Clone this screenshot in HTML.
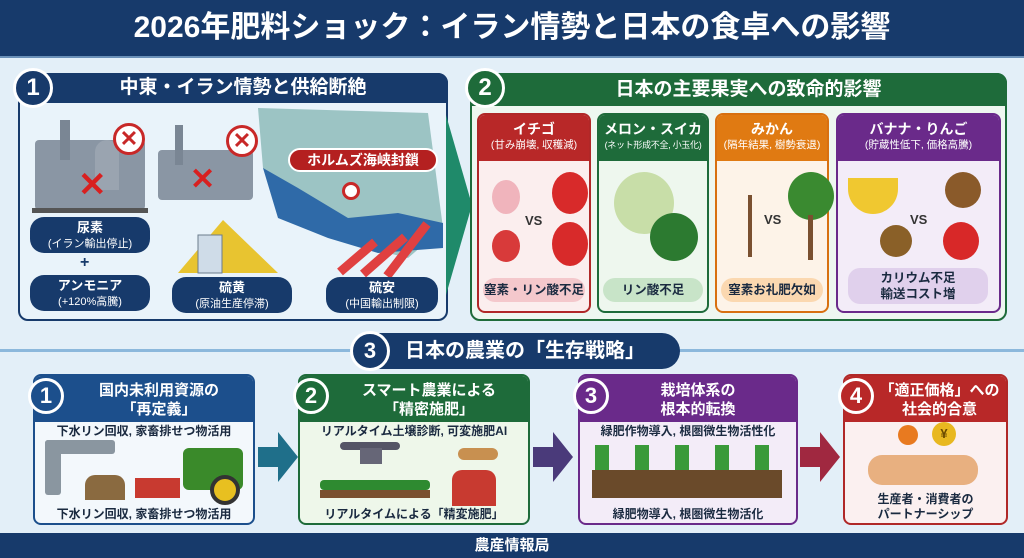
<!DOCTYPE html>
<html><head><meta charset="utf-8"><style>
*{margin:0;padding:0;box-sizing:border-box}
body{width:1024px;height:558px;overflow:hidden;background:#e3eff8;font-family:"Liberation Sans","Noto Sans CJK JP",sans-serif;position:relative;color:#1a2a40}
.a{position:absolute}
.title{left:0;top:0;width:1024px;height:58px;background:#173a6b;color:#fff;font-size:30px;font-weight:bold;text-align:center;line-height:56px;border-bottom:2px solid #6a90b8}
.box{border:2px solid;border-radius:10px;background:#e9f3fa}
.hd{color:#fff;font-weight:bold;text-align:center}
.num{border-radius:50%;color:#fff;font-weight:bold;text-align:center;border:3px solid #fff}
.pill{background:#173a6b;color:#fff;border-radius:14px;text-align:center;font-weight:bold;font-size:13px;line-height:15px;padding-top:3px}
.pill small{font-size:11px;font-weight:normal}
.card{border:2px solid;border-radius:8px;overflow:hidden}
.ch{color:#fff;text-align:center;font-weight:bold;font-size:14px;line-height:18px;padding-top:5px;height:46px;white-space:nowrap}
.ch small{display:block;font-size:10.5px;font-weight:normal;line-height:15px}
.tag{border-radius:12px;text-align:center;font-weight:bold;font-size:12.5px}
.vs{font-weight:bold;font-size:13px;color:#333}
.c{border-radius:50%}
.bc{border:2px solid;border-radius:8px;background:#f3f8fc;overflow:hidden}
.bh{color:#fff;font-weight:bold;font-size:15px;line-height:19px;text-align:center;height:46px;padding-top:5px}
.bt{text-align:center;font-weight:bold;font-size:12px;color:#1a2a40}
</style></head><body>
<div class="a title">2026年肥料ショック：イラン情勢と日本の食卓への影響</div>

<div class="a box" style="left:18px;top:73px;width:430px;height:248px;border-color:#173a6b"></div>
<div class="a hd" style="left:18px;top:73px;width:430px;height:30px;background:#173a6b;border-radius:10px 10px 0 0;font-size:19px;line-height:30px;padding-left:20px">中東・イラン情勢と供給断絶</div>
<div class="a num" style="left:13px;top:68px;width:40px;height:40px;background:#173a6b;font-size:24px;line-height:34px">1</div>
<div class="a" style="left:35px;top:140px;width:110px;height:70px;background:#8a96a4;border-radius:4px"></div>
<div class="a" style="left:60px;top:120px;width:10px;height:40px;background:#7a8694"></div>
<div class="a" style="left:95px;top:140px;width:24px;height:50px;background:#9aa4b0;border-radius:12px 12px 0 0"></div>
<div class="a" style="left:32px;top:208px;width:116px;height:5px;background:#555"></div>
<div class="a c" style="left:113px;top:123px;width:32px;height:32px;border:3px solid #c82828;background:#fff;color:#c82828;font-size:22px;font-weight:bold;text-align:center;line-height:26px">✕</div>
<div class="a" style="left:78px;top:168px;color:#d82020;font-size:34px;font-weight:bold;line-height:34px">✕</div>
<div class="a" style="left:158px;top:150px;width:95px;height:50px;background:#8a96a4;border-radius:4px"></div>
<div class="a" style="left:175px;top:125px;width:8px;height:40px;background:#7a8694"></div>
<div class="a" style="left:226px;top:125px;width:32px;height:32px;border:3px solid #c82828;background:#fff;color:#c82828;font-size:22px;font-weight:bold;text-align:center;line-height:26px;border-radius:50%">✕</div>
<div class="a" style="left:190px;top:165px;color:#d82020;font-size:30px;font-weight:bold;line-height:30px">✕</div>
<svg class="a" style="left:258px;top:108px" width="190" height="170"><path d="M0 0 L170 5 L185 120 L150 150 L90 135 L60 110 L20 90 L5 60 Z" fill="#9cc4c4"/><path d="M5 60 L40 80 L90 110 L140 105 L185 115 L185 140 L120 145 L70 130 L20 110 Z" fill="#2f6aa8"/></svg>
<div class="a" style="left:288px;top:148px;width:150px;height:24px;background:#b42020;border:2px solid #fff;border-radius:12px;color:#fff;font-weight:bold;font-size:14px;text-align:center;line-height:20px">ホルムズ海峡封鎖</div>
<div class="a c" style="left:342px;top:182px;width:18px;height:18px;border:3px solid #c82828;background:#fff"></div>
<svg class="a" style="left:335px;top:212px" width="100" height="65"><g stroke="#e04040" stroke-width="9" fill="none"><path d="M5 60 L40 30"/><path d="M28 62 L70 25"/><path d="M52 64 L92 12"/></g></svg>
<svg class="a" style="left:178px;top:215px" width="100" height="60"><path d="M0 58 L45 5 L100 58Z" fill="#e8c430"/><rect x="20" y="20" width="24" height="38" fill="#cfdce8" stroke="#6c7c8c"/></svg>
<div class="a pill" style="left:30px;top:217px;width:120px;height:36px">尿素<br><small>(イラン輸出停止)</small></div>
<div class="a" style="left:80px;top:254px;font-size:16px;font-weight:bold;color:#173a6b">+</div>
<div class="a pill" style="left:30px;top:275px;width:120px;height:36px">アンモニア<br><small>(+120%高騰)</small></div>
<div class="a pill" style="left:172px;top:277px;width:120px;height:36px">硫黄<br><small>(原油生産停滞)</small></div>
<div class="a pill" style="left:326px;top:277px;width:112px;height:36px">硫安<br><small>(中国輸出制限)</small></div>
<svg class="a" style="left:446px;top:115px" width="28" height="180"><path d="M0 0 L26 90 L0 180Z" fill="#1f8a6a"/></svg>

<div class="a box" style="left:470px;top:73px;width:537px;height:248px;border-color:#1e6b3a;background:#eef7f0"></div>
<div class="a hd" style="left:470px;top:73px;width:537px;height:33px;background:#1e6b3a;border-radius:10px 10px 0 0;font-size:19px;line-height:33px;padding-left:20px">日本の主要果実への致命的影響</div>
<div class="a num" style="left:465px;top:68px;width:40px;height:40px;background:#1e6b3a;font-size:24px;line-height:34px">2</div>

<div class="a card" style="left:477px;top:113px;width:114px;height:200px;border-color:#b02828;background:#fbeeee"><div class="ch" style="background:#b82828">イチゴ<small>(甘み崩壊, 収穫減)</small></div></div>
<div class="a c" style="left:492px;top:180px;width:28px;height:34px;background:#f0b4bc"></div>
<div class="a c" style="left:552px;top:172px;width:36px;height:42px;background:#d82a2a"></div>
<div class="a c" style="left:492px;top:230px;width:28px;height:32px;background:#d83a3a"></div>
<div class="a c" style="left:552px;top:222px;width:36px;height:44px;background:#d82a2a"></div>
<div class="a vs" style="left:525px;top:213px">VS</div>
<div class="a tag" style="left:483px;top:278px;width:102px;height:24px;background:#f4c8cc;line-height:24px">窒素・リン酸不足</div>

<div class="a card" style="left:597px;top:113px;width:112px;height:200px;border-color:#1e6b3a;background:#eef7ee"><div class="ch" style="background:#1e6b3a">メロン・スイカ<small style="font-size:9px;letter-spacing:-0.3px">(ネット形成不全, 小玉化)</small></div></div>
<div class="a c" style="left:614px;top:172px;width:60px;height:62px;background:#c8dea8"></div>
<div class="a c" style="left:650px;top:213px;width:48px;height:48px;background:#2c7a30"></div>
<div class="a tag" style="left:603px;top:278px;width:100px;height:24px;background:#c8e4c8;line-height:24px">リン酸不足</div>

<div class="a card" style="left:715px;top:113px;width:114px;height:200px;border-color:#d87010;background:#fdf3e8"><div class="ch" style="background:#e07a12">みかん<small>(隔年結果, 樹勢衰退)</small></div></div>
<div class="a" style="left:748px;top:195px;width:4px;height:62px;background:#7a5030"></div>
<div class="a c" style="left:788px;top:172px;width:46px;height:48px;background:#3a8a30"></div>
<div class="a" style="left:808px;top:215px;width:5px;height:45px;background:#7a5030"></div>
<div class="a vs" style="left:764px;top:212px">VS</div>
<div class="a tag" style="left:721px;top:278px;width:102px;height:24px;background:#fbd8b0;line-height:24px">窒素お礼肥欠如</div>

<div class="a card" style="left:836px;top:113px;width:165px;height:200px;border-color:#6a2a8a;background:#f3ecf8"><div class="ch" style="background:#6a2a8a">バナナ・りんご<small>(貯蔵性低下, 価格高騰)</small></div></div>
<div class="a" style="left:848px;top:178px;width:50px;height:36px;border-radius:0 0 30px 30px;background:#f0c830"></div>
<div class="a c" style="left:945px;top:172px;width:36px;height:36px;background:#8a5a2a"></div>
<div class="a c" style="left:880px;top:225px;width:32px;height:32px;background:#8a6028"></div>
<div class="a c" style="left:943px;top:222px;width:36px;height:38px;background:#d82828"></div>
<div class="a vs" style="left:910px;top:212px">VS</div>
<div class="a tag" style="left:848px;top:268px;width:140px;height:36px;background:#e0d0ec;line-height:16px;padding-top:2px">カリウム不足<br>輸送コスト増</div>

<div class="a" style="left:0;top:349px;width:1024px;height:3px;background:#8cb8dc"></div>
<div class="a" style="left:355px;top:333px;width:325px;height:36px;background:#173a6b;border-radius:18px;color:#fff;font-weight:bold;font-size:20px;line-height:36px;padding-left:50px">日本の農業の「生存戦略」</div>
<div class="a num" style="left:350px;top:331px;width:40px;height:40px;background:#173a6b;font-size:22px;line-height:34px">3</div>

<div class="a bc" style="left:33px;top:374px;width:222px;height:151px;border-color:#1c4f8c"><div class="bh" style="background:#1c4f8c;padding-left:30px">国内未利用資源の<br>「再定義」</div></div>
<div class="a num" style="left:28px;top:378px;width:36px;height:36px;background:#1c4f8c;font-size:22px;line-height:30px">1</div>
<div class="a bt" style="left:33px;top:422px;width:222px">下水リン回収, 家畜排せつ物活用</div>
<div class="a" style="left:45px;top:440px;width:16px;height:55px;background:#8a96a0;border-radius:3px"></div>
<div class="a" style="left:45px;top:440px;width:70px;height:14px;background:#8a96a0;border-radius:3px"></div>
<div class="a" style="left:85px;top:475px;width:40px;height:25px;background:#8a6a40;border-radius:10px 10px 0 0"></div>
<div class="a" style="left:135px;top:478px;width:45px;height:20px;background:#c83a30"></div>
<div class="a" style="left:183px;top:448px;width:60px;height:42px;background:#3a8a2a;border-radius:6px"></div>
<div class="a c" style="left:210px;top:475px;width:30px;height:30px;background:#e8c020;border:4px solid #333"></div>
<div class="a bt" style="left:33px;top:505px;width:222px">下水リン回収, 家畜排せつ物活用</div>
<svg class="a" style="left:258px;top:432px" width="40" height="50"><path d="M0 15 H20 V0 L40 25 L20 50 V35 H0Z" fill="#1f6f8a"/></svg>

<div class="a bc" style="left:298px;top:374px;width:232px;height:151px;border-color:#1e6b3a;background:#eef7ea"><div class="bh" style="background:#1e6b3a;padding-left:30px">スマート農業による<br>「精密施肥」</div></div>
<div class="a num" style="left:293px;top:378px;width:36px;height:36px;background:#1e6b3a;font-size:22px;line-height:30px">2</div>
<div class="a bt" style="left:298px;top:422px;width:232px">リアルタイム土壌診断, 可変施肥AI</div>
<div class="a" style="left:340px;top:442px;width:60px;height:8px;background:#556;border-radius:4px"></div>
<div class="a" style="left:360px;top:448px;width:22px;height:16px;background:#667"></div>
<div class="a" style="left:320px;top:480px;width:110px;height:10px;background:#2e8a30;border-radius:4px"></div>
<div class="a" style="left:320px;top:490px;width:110px;height:8px;background:#7a5030"></div>
<div class="a" style="left:458px;top:448px;width:40px;height:12px;background:#c89050;border-radius:10px"></div>
<div class="a" style="left:452px;top:470px;width:44px;height:36px;background:#c83a30;border-radius:10px 10px 0 0"></div>
<div class="a bt" style="left:298px;top:505px;width:232px">リアルタイムによる「精変施肥」</div>
<svg class="a" style="left:533px;top:432px" width="40" height="50"><path d="M0 15 H20 V0 L40 25 L20 50 V35 H0Z" fill="#4a3a7a"/></svg>

<div class="a bc" style="left:578px;top:374px;width:220px;height:151px;border-color:#6a2a8a;background:#f3ecf8"><div class="bh" style="background:#6a2a8a;padding-left:20px">栽培体系の<br>根本的転換</div></div>
<div class="a num" style="left:573px;top:378px;width:36px;height:36px;background:#6a2a8a;font-size:22px;line-height:30px">3</div>
<div class="a bt" style="left:578px;top:422px;width:220px">緑肥作物導入, 根圏微生物活性化</div>
<div class="a" style="left:595px;top:445px;width:185px;height:28px;background:repeating-linear-gradient(90deg,#3a9a3a 0 14px,transparent 14px 40px)"></div>
<div class="a" style="left:592px;top:470px;width:190px;height:28px;background:#6a4a2a"></div>
<div class="a bt" style="left:578px;top:505px;width:220px">緑肥物導入, 根圏微生物活化</div>
<svg class="a" style="left:800px;top:432px" width="40" height="50"><path d="M0 15 H20 V0 L40 25 L20 50 V35 H0Z" fill="#a02840"/></svg>

<div class="a bc" style="left:843px;top:374px;width:165px;height:151px;border-color:#b02828;background:#fbf0f0"><div class="bh" style="background:#b82828;padding-left:28px">「適正価格」への<br>社会的合意</div></div>
<div class="a num" style="left:838px;top:378px;width:36px;height:36px;background:#b82828;font-size:22px;line-height:30px">4</div>
<div class="a c" style="left:898px;top:425px;width:20px;height:20px;background:#e87a20"></div>
<div class="a c" style="left:932px;top:422px;width:24px;height:24px;background:#e8b820;color:#6a4a00;font-size:13px;font-weight:bold;text-align:center;line-height:24px">¥</div>
<div class="a" style="left:868px;top:455px;width:110px;height:30px;background:#e8b080;border-radius:14px"></div>
<div class="a bt" style="left:843px;top:492px;width:165px;line-height:15px">生産者・消費者の<br>パートナーシップ</div>

<div class="a" style="left:0;top:533px;width:1024px;height:25px;background:#173a6b;color:#fff;font-weight:bold;font-size:15px;text-align:center;line-height:25px">農産情報局</div>
</body></html>
